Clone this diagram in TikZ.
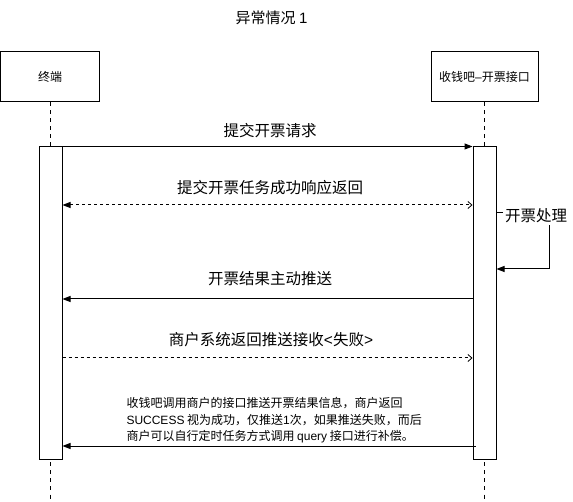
\documentclass[tikz,border=0pt]{standalone}
\usepackage{fontspec}
\setmainfont{Noto Sans CJK SC}
\newfontfamily\lat{Liberation Sans}
\usetikzlibrary{arrows.meta}
\begin{document}
\begin{tikzpicture}[x=1pt,y=-1pt,line width=1pt,
  actorbox/.style={draw,inner sep=0pt,minimum width=99pt,minimum height=50pt,font=\fontsize{12}{14}\selectfont},
  actbar/.style={draw,fill=white,inner sep=0pt,minimum width=23pt,minimum height=312pt},
  lifeline/.style={dash pattern=on 4pt off 4pt},
  msgtext/.style={font=\fontsize{15.5}{18}\selectfont,inner sep=1pt},
  callarrow/.style={-{Triangle[length=8pt,width=6pt]}},
  retarrow/.style={dash pattern=on 3pt off 3pt},
  openhead/.style={-{Straight Barb[length=4pt,width=7pt,line width=0.8pt]}}
]
\useasboundingbox (0,0) rectangle (573,502);
\node[font=\fontsize{15}{18}\selectfont] (title) at (271.5,18) {异常情况 {\lat 1}};
\node[actorbox] (term) at (50,77) {终端};
\node[actorbox,minimum width=107pt] (svc) at (484.5,77) {收钱吧{\lat –}开票接口};
\draw[lifeline] (term.south) -- (term.south |- 0,502) coordinate (termend);
\draw[lifeline] (svc.south) -- (svc.south |- 0,502) coordinate (svcend);
\node[actbar] (LA) at (50.5,303) {};
\node[actbar] (RA) at (484.5,303) {};
% message 1
\draw[callarrow] (LA.north east) -- (RA.north west);
\node[msgtext] (m1) at (270,131) {提交开票请求};
% message 2
\coordinate (m2l) at (LA.east |- 0,205);
\coordinate (m2r) at (RA.west |- 0,205);
\draw[retarrow,{Triangle[length=8pt,width=6pt]}-{Straight Barb[length=4pt,width=7pt,line width=0.8pt]}] (m2l) -- (m2r);
\node[msgtext] (m2) at (270,188) {提交开票任务成功响应返回};
% self call
\coordinate (s1) at (RA.east |- 0,213);
\coordinate (s2) at (RA.east |- 0,269);
\draw[callarrow] (s1) -- (549,213) -- (549,269) -- (s2);
\node[msgtext,fill=white,inner sep=2pt] (self) at (536,216) {开票处理};
% message 3
\coordinate (m3l) at (LA.east |- 0,299);
\coordinate (m3r) at (RA.west |- 0,299);
\draw[callarrow] (m3r) -- (m3l);
\node[msgtext] (m3) at (270,279) {开票结果主动推送};
% message 4
\coordinate (m4l) at (LA.east |- 0,358);
\coordinate (m4r) at (RA.west |- 0,358);
\draw[retarrow,openhead] (m4l) -- (m4r);
\node[msgtext] (m4) at (271,340) {商户系统返回推送接收{\lat <}失败{\lat >}};
% message 5
\coordinate (m5l) at (LA.east |- 0,446);
\coordinate (m5r) at ([xshift=3pt]RA.west |- 0,446);
\draw[callarrow] (m5r) -- (m5l);
\node[font=\fontsize{12}{16.5}\selectfont,align=left,anchor=west,inner sep=0pt] (note) at (126,420.5) {收钱吧调用商户的接口推送开票结果信息，商户返回\\{\lat SUCCESS} 视为成功，仅推送{\lat 1}次，如果推送失败，而后\\商户可以自行定时任务方式调用 {\lat query} 接口进行补偿。};
\end{tikzpicture}
\end{document}
